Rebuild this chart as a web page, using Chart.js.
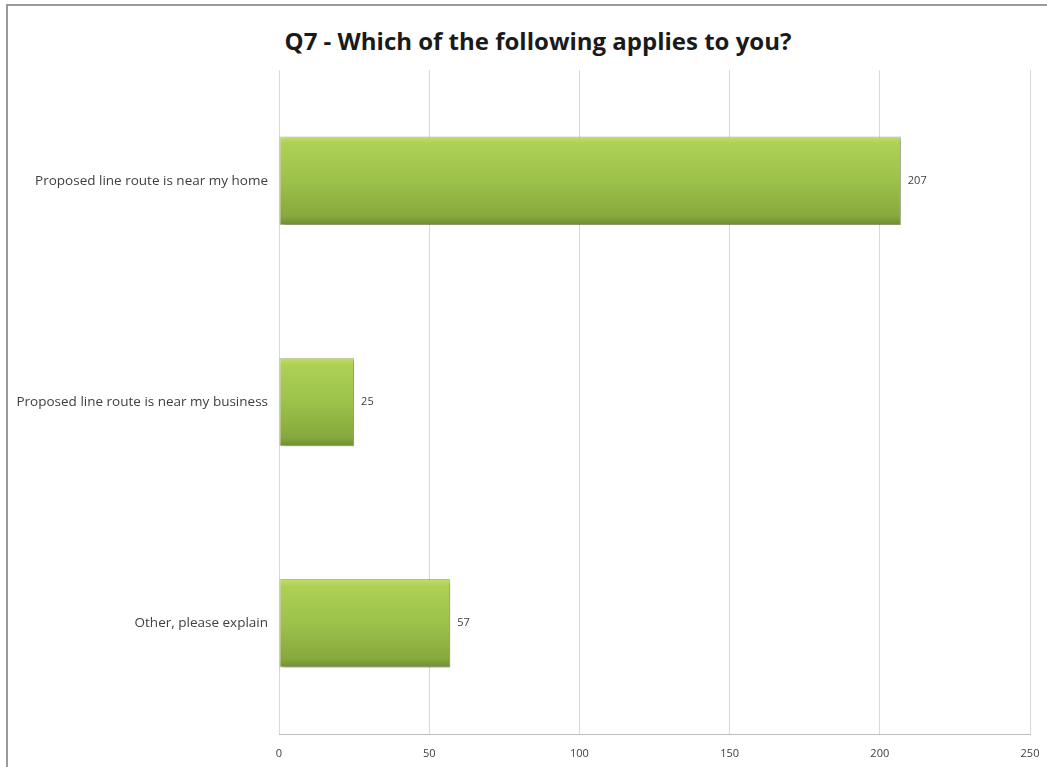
<!DOCTYPE html>
<html>
<head>
<meta charset="utf-8">
<script src="https://cdn.jsdelivr.net/npm/chart.js@4.4.1/dist/chart.umd.min.js"></script>
<style>
  html, body { margin: 0; padding: 0; background: #fff; overflow: hidden; }
  .frame {
    position: absolute; left: 6px; top: 4px; width: 1041px; height: 763px;
    border-top: 2px solid #9a9a9a; border-left: 2px solid #9a9a9a;
    box-sizing: border-box; background: #fff;
  }
  .chart-title {
    position: absolute; left: 0; top: 20px; width: 1060px; margin: 0;
    text-align: center; font: bold 24px/29px "Open Sans", sans-serif; color: #1a1a1a;
  }
  .chart-wrapper { position: absolute; left: 0; top: 0; width: 1039px; height: 761px; }
</style>
</head>
<body>
<div class="frame">
  <h1 class="chart-title">Q7 - Which of the following applies to you?</h1>
  <div class="chart-wrapper"><canvas id="q7Chart"></canvas></div>
</div>
<script>
const categories = [
  'Proposed line route is near my home',
  'Proposed line route is near my business',
  'Other, please explain'
];
const responses = [207, 25, 57];
const xTicks = [0, 50, 100, 150, 200, 250];

const barPct = 0.4;

// vertical green gradient per bar, like the Excel bevel fill
function barGradient(context) {
  const chart = context.chart;
  const yScale = chart.scales.y;
  if (!yScale || !chart.chartArea) return '#9dc143';
  const yc = yScale.getPixelForValue(context.dataIndex);
  const half = (yScale.height / categories.length) * barPct / 2;
  const g = chart.ctx.createLinearGradient(0, yc - half, 0, yc + half);
  g.addColorStop(0, '#c2de66');
  g.addColorStop(0.08, '#add055');
  g.addColorStop(0.5, '#9dc24a');
  g.addColorStop(0.9, '#86a83d');
  g.addColorStop(1, '#6e8e30');
  return g;
}

const barShadow = {
  id: 'barShadow',
  beforeDatasetsDraw(chart) {
    const ctx = chart.ctx;
    ctx.save();
    ctx.shadowColor = 'rgba(0,0,0,0.3)';
    ctx.shadowBlur = 4;
    ctx.shadowOffsetX = 2;
    ctx.shadowOffsetY = 2;
  },
  afterDatasetsDraw(chart) {
    chart.ctx.restore();
  }
};

const valueLabels = {
  id: 'valueLabels',
  afterDatasetsDraw(chart) {
    const ctx = chart.ctx;
    const meta = chart.getDatasetMeta(0);
    ctx.save();
    ctx.font = '11px "Open Sans"';
    ctx.fillStyle = '#404040';
    ctx.textAlign = 'left';
    ctx.textBaseline = 'middle';
    meta.data.forEach((bar, i) => {
      ctx.fillText(String(responses[i]), bar.x + 7, bar.y);
    });
    ctx.restore();
  }
};

new Chart(document.getElementById('q7Chart'), {
  type: 'bar',
  data: {
    labels: categories,
    datasets: [{
      data: responses,
      backgroundColor: barGradient,
      borderColor: 'rgba(100,130,40,0.45)',
      borderWidth: 1,
      borderSkipped: false,
      categoryPercentage: 1,
      barPercentage: barPct
    }]
  },
  options: {
    indexAxis: 'y',
    responsive: true,
    maintainAspectRatio: false,
    animation: false,
    layout: { padding: { top: 64, right: 17, bottom: 6, left: 0 } },
    plugins: {
      legend: { display: false },
      tooltip: { enabled: false },
      title: { display: false }
    },
    scales: {
      x: {
        min: 0,
        max: 250,
        afterBuildTicks(scale) { scale.ticks = xTicks.map(v => ({ value: v })); },
        afterFit(scale) { scale.height = 27; scale.paddingRight = 0; },
        grid: { color: '#d9d9d9', drawTicks: false },
        border: { color: '#bfbfbf' },
        ticks: { color: '#404040', font: { family: 'Open Sans', size: 11 }, padding: 13 }
      },
      y: {
        grid: { display: false, drawTicks: false },
        border: { display: false },
        ticks: { color: '#404040', font: { family: 'Open Sans', size: 13.5 }, padding: 11 },
        afterFit(scale) { scale.width = 271; }
      }
    }
  },
  plugins: [barShadow, valueLabels]
});
</script>
</body>
</html>
